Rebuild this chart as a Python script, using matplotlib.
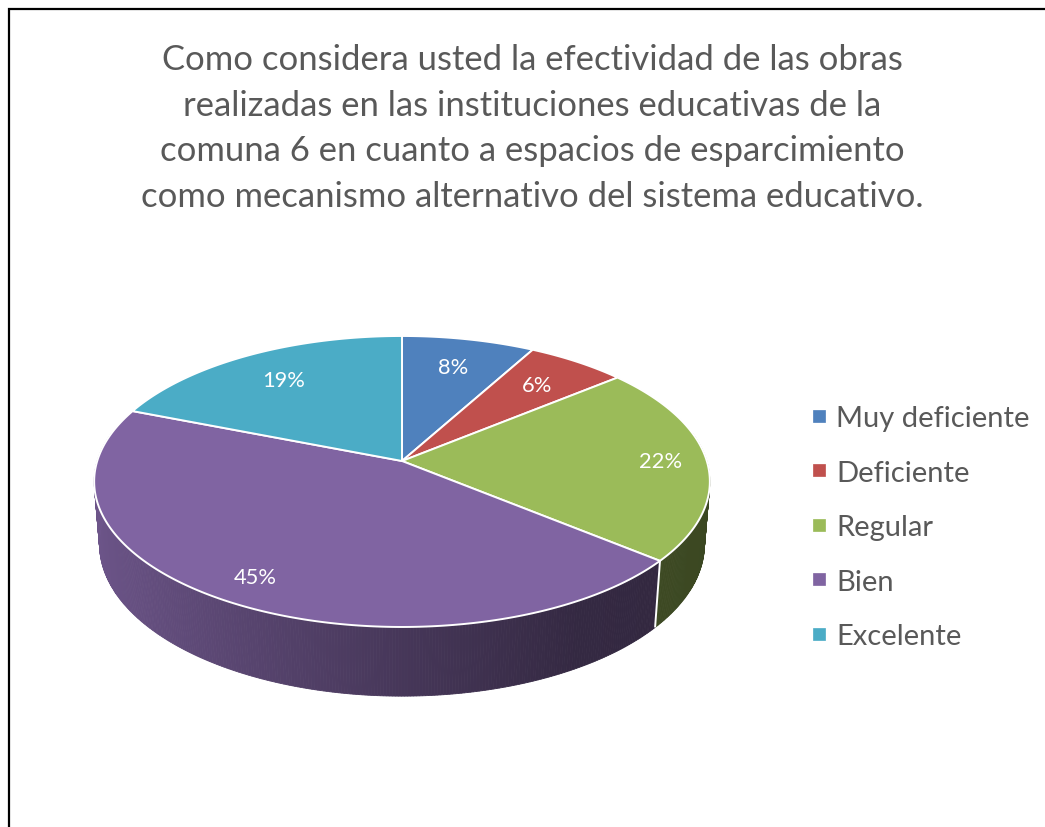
import numpy as np
import matplotlib
matplotlib.use('Agg')
import matplotlib.pyplot as plt
from matplotlib.patches import Polygon, Rectangle
from matplotlib.colors import to_rgb

# ---------------- data ----------------
categories = ['Muy deficiente', 'Deficiente', 'Regular', 'Bien', 'Excelente']
values = [8, 6, 22, 45, 19]
pct_labels = ['8%', '6%', '22%', '45%', '19%']
colors = ['#4F81BD', '#C0504D', '#9BBB59', '#8064A2', '#4BACC6']
title_lines = ["Como considera usted la efectividad de las obras",
               "realizadas en las instituciones educativas de la",
               "comuna 6 en cuanto a espacios de esparcimiento",
               "como mecanismo alternativo del sistema educativo."]

# ---------------- layout / style ----------------
W, HPX = 1045, 828
FONT = 'Lato'
TEXT_COLOR = '#595959'
label_r = [0.75, 0.75, 0.85, 0.85, 0.75]

fig = plt.figure(figsize=(W / 100, HPX / 100), dpi=100)
ax = fig.add_axes([0, 0, 1, 1])
ax.set_xlim(0, W)
ax.set_ylim(HPX, 0)
ax.axis('off')

# perspective projection of a tilted disc
CX, CY = 402, 462
F = 1914.0
DIST = 6.28
TILT = np.radians(27.9)
S, C = np.sin(TILT), np.cos(TILT)
DEPTH = 0.236


def proj(theta_deg, r=1.0, h=0.0):
    t = np.radians(theta_deg)
    u = r * np.cos(t)
    v = r * np.sin(t)
    Y = v * S + h * C
    d = DIST + v * C - h * S
    return CX + F * u / d, CY - F * Y / d


total = float(sum(values))
bounds = 90 - 360 * np.concatenate([[0], np.cumsum(values)]) / total

# ---- side walls (shaded) ----
for i, col in enumerate(colors):
    a0, a1 = bounds[i], bounds[i + 1]
    n = max(int(abs(a0 - a1) * 2), 2)
    ts = np.linspace(a0, a1, n + 1)
    base = np.array(to_rgb(col))
    for t1, t2 in zip(ts[:-1], ts[1:]):
        tm = 0.5 * (t1 + t2)
        if np.sin(np.radians(tm)) > 0.2:
            continue
        fac = np.interp(np.cos(np.radians(tm)), [-1, 0, 0.5, 1], [0.85, 0.55, 0.41, 0.38])
        c = np.clip(base * fac, 0, 1)
        x1, y1 = proj(t1)
        x2, y2 = proj(t2)
        x3, y3 = proj(t2, h=-DEPTH)
        x4, y4 = proj(t1, h=-DEPTH)
        ax.add_patch(Polygon([[x1, y1], [x2, y2], [x3, y3], [x4, y4]],
                             closed=True, facecolor=c, edgecolor=c, lw=0.6, zorder=1))

# white seams on the wall at slice boundaries facing the viewer
for b in bounds[1:-1]:
    if np.sin(np.radians(b)) < 0 and abs(np.cos(np.radians(b))) < 0.97:
        xa, ya = proj(b)
        xb, yb = proj(b, h=-DEPTH)
        ax.plot([xa, xb], [ya, yb], color='white', lw=1.4, zorder=1.5,
                solid_capstyle='butt')

# ---- top faces ----
for i, col in enumerate(colors):
    a0, a1 = bounds[i], bounds[i + 1]
    ts = np.linspace(a0, a1, max(int(abs(a0 - a1) * 2), 2))
    xs, ys = proj(ts)
    pts = [[CX, CY]] + list(zip(xs, ys))
    ax.add_patch(Polygon(pts, closed=True, facecolor=col, edgecolor='white',
                         lw=1.4, joinstyle='round', zorder=2))

# ---- text size fitting helper ----
renderer = fig.canvas.get_renderer()


def fit_size(s, target_px, family=FONT, weight='normal'):
    t = ax.text(0, 0, s, fontsize=20, family=family, weight=weight)
    w = t.get_window_extent(renderer=renderer).width
    t.remove()
    return 20 * target_px / w


# ---- percentage labels ----
lab_fs = fit_size('45%', 43)
for i, lab in enumerate(pct_labels):
    mid = 0.5 * (bounds[i] + bounds[i + 1])
    x, y = proj(mid, r=label_r[i])
    ax.text(x, y, lab, color='white', fontsize=lab_fs, family=FONT,
            ha='center', va='center', zorder=3)

# ---- title (one text per line, centred) ----
title_fs = fit_size(title_lines[3], 782)
for i, line in enumerate(title_lines):
    ax.text(532, 57 + 45.7 * i, line, fontsize=title_fs, family=FONT,
            color=TEXT_COLOR, ha='center', va='center_baseline', zorder=3)

# ---- legend ----
leg_fs = fit_size(categories[0], 194)
for i, (cat, col) in enumerate(zip(categories, colors)):
    yc = 417 + 54.4 * i
    ax.add_patch(Rectangle((812.5, yc - 6), 12, 12, facecolor=col,
                           edgecolor=col, lw=0.5, zorder=3))
    ax.text(836, yc, cat, fontsize=leg_fs, family=FONT, color=TEXT_COLOR,
            ha='left', va='center_baseline', zorder=3)

# ---- frame (left and top edges) ----
ax.plot([9, 9, W], [HPX, 10, 10], color='black', lw=1.6, zorder=4,
        solid_joinstyle='miter')

fig.savefig('out.png', dpi=100)
